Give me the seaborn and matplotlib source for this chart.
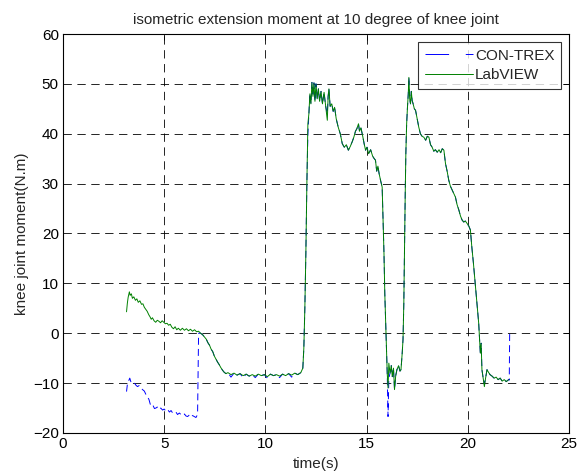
import matplotlib
matplotlib.use("Agg")
import matplotlib.pyplot as plt
import seaborn as sns
import pandas as pd

# LabVIEW recording (time in s, moment in N.m)
lab_t = [3.14, 3.18, 3.22, 3.28, 3.32, 3.38, 3.43, 3.50, 3.58, 3.65, 3.72, 3.80, 3.88, 3.95,
         4.02, 4.09, 4.16, 4.24, 4.30, 4.36, 4.42, 4.50, 4.58, 4.66, 4.74, 4.82, 4.90, 4.98,
         5.06, 5.14, 5.22, 5.30, 5.38, 5.46, 5.54, 5.62, 5.70, 5.80, 5.90, 6.00, 6.10, 6.20,
         6.30, 6.40, 6.50, 6.60, 6.70, 6.80, 6.90, 7.00, 7.08, 7.16, 7.24, 7.32, 7.40, 7.48,
         7.56, 7.64, 7.72, 7.80, 7.88, 7.96, 8.05, 8.15, 8.30, 8.45, 8.60, 8.75, 8.90, 9.05,
         9.20, 9.35, 9.50, 9.65, 9.80, 9.95, 10.10, 10.25, 10.40, 10.55, 10.70, 10.85, 11.00,
         11.15, 11.30, 11.45, 11.60, 11.75, 11.85, 11.90, 11.95, 12.00, 12.05, 12.10, 12.15,
         12.20, 12.25, 12.30, 12.35, 12.40, 12.45, 12.50, 12.56, 12.62, 12.68, 12.75, 12.82,
         12.90, 12.98, 13.06, 13.10, 13.14, 13.20, 13.28, 13.35, 13.42, 13.50, 13.60, 13.70,
         13.80, 13.90, 14.00, 14.10, 14.20, 14.30, 14.37, 14.45, 14.52, 14.60, 14.65, 14.72,
         14.80, 14.88, 14.95, 15.02, 15.10, 15.20, 15.30, 15.38, 15.44, 15.50, 15.56, 15.62,
         15.70, 15.77, 15.82, 15.86, 15.90, 15.94, 15.98, 16.02, 16.06, 16.10, 16.16, 16.22,
         16.27, 16.33, 16.38, 16.44, 16.50, 16.58, 16.65, 16.70, 16.76, 16.80, 16.84, 16.87,
         16.91, 16.94, 16.98, 17.02, 17.06, 17.09, 17.13, 17.17, 17.21, 17.25, 17.30, 17.36,
         17.42, 17.50, 17.58, 17.66, 17.74, 17.83, 17.92, 18.00, 18.08, 18.16, 18.24, 18.32,
         18.40, 18.49, 18.58, 18.66, 18.74, 18.82, 18.90, 18.98, 19.06, 19.14, 19.23, 19.31,
         19.39, 19.47, 19.56, 19.64, 19.72, 19.80, 19.88, 19.97, 20.05, 20.13, 20.20, 20.28,
         20.38, 20.46, 20.54, 20.62, 20.66, 20.70, 20.76, 20.82, 20.88, 20.95, 21.02, 21.10,
         21.20, 21.30, 21.40, 21.50, 21.60, 21.70, 21.80, 21.90, 22.02]
lab_m = [4.3, 6.0, 7.2, 8.3, 7.6, 7.9, 7.0, 7.3, 6.6, 6.9, 6.2, 6.5, 5.8, 5.9,
         5.2, 4.8, 4.4, 3.7, 3.3, 2.8, 3.1, 2.5, 2.2, 2.6, 2.4, 2.1, 2.5, 2.2,
         1.9, 2.0, 1.6, 1.8, 1.2, 0.9, 1.3, 0.7, 1.0, 0.6, 1.0, 0.6, 0.9, 0.5,
         0.8, 0.4, 0.7, 0.3, 0.4, 0.0, -0.3, -0.8, -1.2, -1.9, -2.4, -3.2, -3.7, -4.6,
         -5.2, -5.8, -6.3, -6.9, -7.4, -7.8, -8.1, -7.9, -8.3, -8.0, -8.4, -8.1, -8.5, -8.2,
         -8.6, -8.3, -8.6, -8.2, -8.5, -8.3, -8.7, -8.2, -8.5, -8.3, -8.6, -8.2, -8.5,
         -8.1, -8.4, -8.0, -8.3, -7.9, -7.0, -3.0, 5.0, 16.0, 30.0, 42.0, 44.0,
         48.0, 46.0, 50.3, 47.5, 50.2, 46.5, 50.0, 47.0, 49.0, 46.5, 48.5, 46.0,
         48.3, 45.5, 42.7, 47.5, 49.0, 45.5, 46.0, 44.5, 45.3, 43.0, 41.3, 40.0,
         38.0, 37.3, 37.8, 36.7, 37.5, 38.5, 39.3, 40.5, 41.0, 42.0, 40.5, 41.2,
         39.7, 38.0, 36.7, 37.3, 36.0, 36.8, 35.5, 35.0, 34.7, 32.5, 33.5, 32.0,
         30.5, 29.3, 22.0, 16.0, 8.0, 2.7, -3.0, -8.0, -11.0, -6.0, -8.0, -6.5,
         -8.7, -7.0, -11.3, -8.5, -7.3, -6.5, -7.6, -7.3, -4.0, -1.3, 6.0, 16.0,
         28.0, 36.0, 42.0, 45.3, 48.0, 51.3, 47.0, 46.0, 48.5, 46.7, 46.0, 45.0,
         44.7, 43.0, 41.3, 40.0, 39.5, 39.3, 38.7, 39.5, 39.3, 37.8, 37.3, 36.5,
         36.8, 36.3, 36.8, 36.2, 37.0, 36.7, 34.0, 32.5, 30.7, 29.5, 28.7, 28.0,
         27.3, 25.8, 24.7, 23.5, 22.7, 22.3, 22.5, 22.0, 21.5, 20.7, 17.3, 14.0,
         9.3, 5.5, 2.0, -4.0, -2.0, -7.3, -9.0, -10.7, -9.0, -7.3, -7.8, -8.3,
         -8.6, -9.0, -8.8, -9.3, -9.0, -9.6, -9.3, -9.7, -9.3]

# CON-TREX: offset start segment before the sync at ~6.7 s
con_head_t = [3.14, 3.18, 3.24, 3.30, 3.36, 3.43, 3.52, 3.60, 3.68, 3.76, 3.85, 3.93, 4.02,
              4.10, 4.17, 4.25, 4.31, 4.37, 4.45, 4.52, 4.59, 4.66, 4.74, 4.83, 4.92, 5.00,
              5.08, 5.17, 5.26, 5.34, 5.42, 5.50, 5.58, 5.66, 5.75, 5.83, 5.92, 6.00, 6.08,
              6.16, 6.24, 6.32, 6.40, 6.49, 6.57, 6.65, 6.70]
con_head_m = [-11.7, -10.3, -9.6, -9.0, -9.8, -10.0, -9.9, -10.4, -10.7, -10.5, -11.0, -11.3, -11.6,
              -12.3, -12.7, -13.3, -14.2, -14.7, -14.5, -15.1, -15.0, -14.8, -15.3, -15.0, -15.4, -15.2,
              -15.6, -15.3, -15.8, -15.5, -16.0, -16.0, -15.8, -16.3, -16.0, -16.3, -16.5, -16.2, -16.6,
              -16.7, -16.4, -16.8, -16.5, -16.7, -16.9, -16.3, 0.0]
# afterwards CON-TREX matches LabVIEW except at these samples
con_diff = {8.30: -8.8, 8.90: -8.9, 9.50: -8.9, 10.10: -9.0, 10.70: -8.9, 11.30: -8.8,
            12.10: 40.0, 13.06: 44.0, 16.06: -16.7, 16.10: -9.0, 20.82: -10.2}
con_tail_t = [22.05, 22.07]
con_tail_m = [-9.4, 0.0]

con_t = con_head_t + [t for t in lab_t if t >= 6.8] + con_tail_t
con_m = (con_head_m
         + [con_diff.get(t, m) for t, m in zip(lab_t, lab_m) if t >= 6.8]
         + con_tail_m)

con_df = pd.DataFrame({"time": con_t, "moment": con_m})
lab_df = pd.DataFrame({"time": lab_t, "moment": lab_m})

sns.set_style("white")
plt.rcParams["font.family"] = ["Liberation Sans", "DejaVu Sans"]
plt.rcParams["font.size"] = 11
plt.rcParams["lines.scale_dashes"] = False

fig = plt.figure(figsize=(5.81, 4.73), dpi=100)
ax = fig.add_axes([0.1084, 0.0846, 0.8709, 0.8435])

sns.lineplot(data=con_df, x="time", y="moment", sort=False, estimator=None,
             color="#0000ff", linestyle=(0, (5, 3)), linewidth=0.7, ax=ax)
sns.lineplot(data=lab_df, x="time", y="moment", sort=False, estimator=None,
             color="#008000", linewidth=0.7, ax=ax)

ax.set_xlim(0, 25)
ax.set_ylim(-20, 60)
ax.set_xticks([0, 5, 10, 15, 20, 25])
ax.set_yticks(range(-20, 61, 10))
ax.grid(True, color="black", linestyle=(0, (6, 4)), linewidth=0.6)
ax.tick_params(direction="in", length=4, width=0.6, top=True, right=True,
               pad=3, labelsize=11, colors="black")
for s in ax.spines.values():
    s.set_color("black")
    s.set_linewidth(0.8)

ax.set_title("isometric extension moment at 10 degree of knee joint", fontsize=11, pad=7)
ax.set_xlabel("time(s)", fontsize=11, labelpad=4)
ax.set_ylabel("knee joint moment(N.m)", fontsize=11, labelpad=3)

leg = ax.legend(handles=ax.lines[:2], labels=["CON-TREX", "LabVIEW"], loc="upper right",
                frameon=True, fancybox=False, handlelength=3.1, borderaxespad=0.5,
                fontsize=11, labelspacing=0.35, handletextpad=0.15, borderpad=0.45)
leg.get_frame().set_edgecolor("black")
leg.get_frame().set_linewidth(0.8)
leg.get_lines()[0].set_dashes([17, 12])

fig.savefig("out.png", dpi=100)
